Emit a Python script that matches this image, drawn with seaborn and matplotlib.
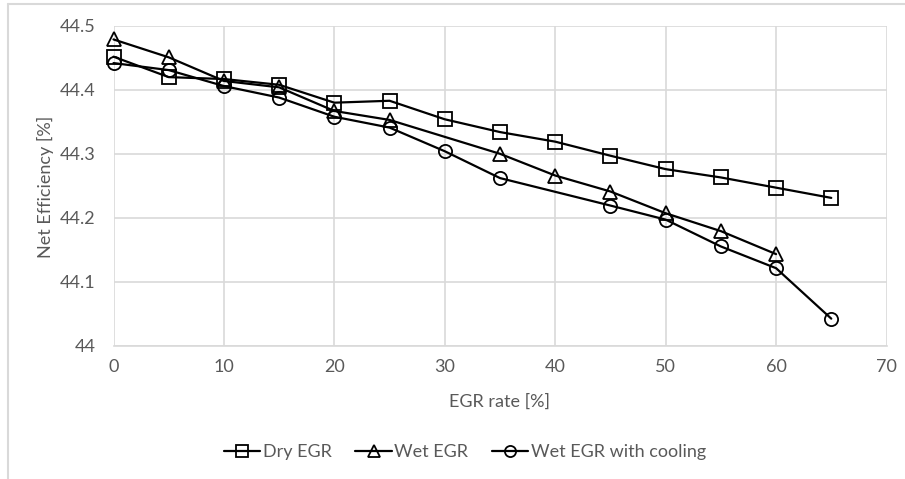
import matplotlib
matplotlib.use("Agg")
import matplotlib.pyplot as plt
import seaborn as sns
import pandas as pd
from matplotlib.lines import Line2D

# ---- data ----
dry_x = [0, 5, 10, 15, 20, 25, 30, 35, 40, 45, 50, 55, 60, 65]
dry_y = [44.452, 44.420, 44.417, 44.408, 44.380, 44.383, 44.354, 44.334, 44.319, 44.297, 44.276, 44.263, 44.247, 44.231]

wet_x = [0, 5, 10, 15, 20, 25, 35, 40, 45, 50, 55, 60]
wet_y = [44.479, 44.451, 44.414, 44.404, 44.367, 44.353, 44.300, 44.266, 44.241, 44.207, 44.179, 44.143]

cool_x = [0, 5, 10, 15, 20, 25, 30, 35, 45, 50, 55, 60, 65]
cool_y = [44.442, 44.431, 44.406, 44.388, 44.358, 44.341, 44.304, 44.262, 44.219, 44.197, 44.155, 44.121, 44.042]

series_names = ["Dry EGR", "Wet EGR", "Wet EGR with cooling"]
series_markers = ["s", "^", "o"]

x_ticks = [0, 10, 20, 30, 40, 50, 60, 70]
y_ticks = [44.0, 44.1, 44.2, 44.3, 44.4, 44.5]
y_tick_labels = ["44", "44.1", "44.2", "44.3", "44.4", "44.5"]

x_label = "EGR rate [%]"
y_label = "Net Efficiency [%]"

# ---- style ----
sns.set_theme(style="white")
plt.rcParams['font.family'] = ['Lato', 'DejaVu Sans']

grid_c = "#d9d9d9"
text_c = "#595959"
fs = 13

fig = plt.figure(figsize=(9.05, 4.79), dpi=100)
ax = fig.add_axes([113.5 / 905, 1 - 345.5 / 479, (886.5 - 113.5) / 905, (345.5 - 26) / 479])

frames = []
for name, xs, ys in zip(series_names, [dry_x, wet_x, cool_x], [dry_y, wet_y, cool_y]):
    frames.append(pd.DataFrame({"x": xs, "y": ys, "series": name}))
df = pd.concat(frames, ignore_index=True)

handles = []
for name, mk in zip(series_names, series_markers):
    sub = df[df["series"] == name]
    sns.lineplot(data=sub, x="x", y="y", ax=ax, color="black", linewidth=1.6,
                 marker=mk, markersize=9.5, markerfacecolor="none",
                 markeredgecolor="black", markeredgewidth=1.3, legend=False, zorder=3,
                 clip_on=False)
    handles.append(Line2D([], [], color="black", linewidth=1.6, marker=mk, markersize=8,
                          markerfacecolor="none", markeredgecolor="black", markeredgewidth=1.3,
                          label=name))

ax.set_xlim(0, 70)
ax.set_ylim(44.0, 44.5)
ax.set_xticks(x_ticks)
ax.set_yticks(y_ticks)
ax.set_yticklabels(y_tick_labels)
ax.grid(True, color=grid_c, linewidth=1.2, zorder=0)
ax.set_axisbelow(True)
for s in ["top", "right", "left"]:
    ax.spines[s].set_visible(False)
ax.spines["bottom"].set_color(grid_c)
ax.spines["bottom"].set_linewidth(1.2)
ax.tick_params(axis="both", length=0, labelsize=fs, labelcolor=text_c)
ax.tick_params(axis="y", pad=13)
ax.tick_params(axis="x", pad=10)

ax.set_xlabel("")
ax.set_ylabel("")
fig.text(499 / 905, 1 - 402 / 479, x_label, ha="center", va="center", fontsize=fs, color=text_c)
fig.text(45 / 905, 1 - 187 / 479, y_label, ha="center", va="center", rotation=90, fontsize=fs, color=text_c)

leg = fig.legend(handles=handles, loc="center", bbox_to_anchor=(465 / 905, 1 - 452 / 479),
                 ncol=3, frameon=False, fontsize=fs, handlelength=2.0, handletextpad=0.15,
                 columnspacing=1.3)
for t in leg.get_texts():
    t.set_color(text_c)

# outer chart border (top and left edges visible)
fig.add_artist(Line2D([8 / 905, 1], [1 - 4 / 479, 1 - 4 / 479], transform=fig.transFigure,
                      color=grid_c, linewidth=1.5))
fig.add_artist(Line2D([8 / 905, 8 / 905], [0, 1 - 4 / 479], transform=fig.transFigure,
                      color=grid_c, linewidth=1.5))

fig.savefig("out.png", dpi=100)
